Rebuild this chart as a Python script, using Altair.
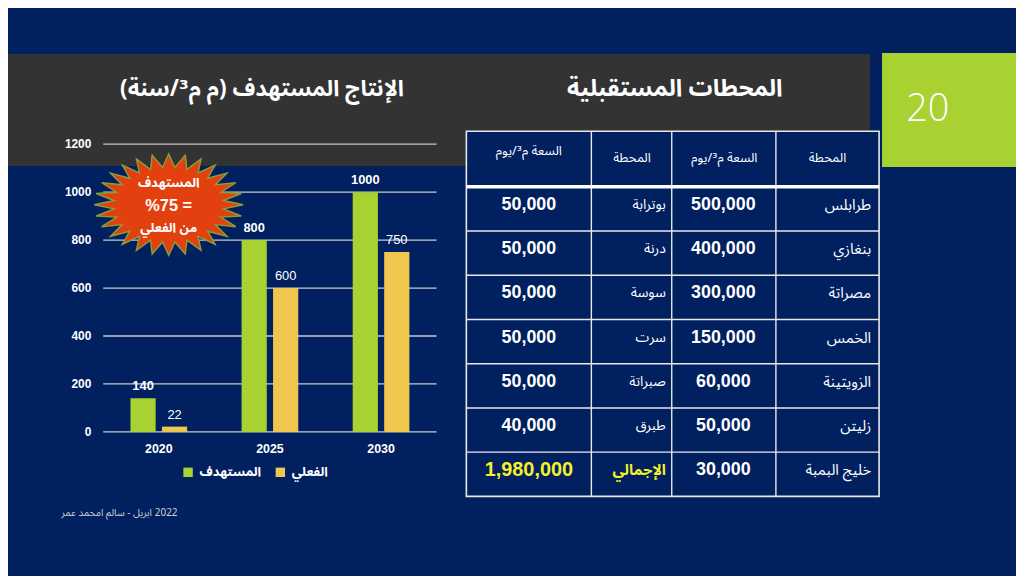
import math
import altair as alt
import pandas as pd

# ---------------- data ----------------
years = ["2020", "2025", "2030"]
target = [140, 800, 1000]
actual = [22, 600, 750]
series_names = ["المستهدف", "الفعلي"]
y_ticks = [0, 200, 400, 600, 800, 1000, 1200]

stations_a = ["طرابلس", "بنغازي", "مصراتة", "الخمس", "الزويتينة", "زليتن", "خليج البمبة"]
caps_a = [500000, 400000, 300000, 150000, 60000, 50000, 30000]
stations_b = ["بوترابة", "درنة", "سوسة", "سرت", "صبراتة", "طبرق", "الإجمالي"]
caps_b = [50000, 50000, 50000, 50000, 50000, 40000, 1980000]
header_station = "المحطة"
header_capacity = "السعة م³/يوم"

title_chart = "الإنتاج المستهدف (م م³/سنة)"
title_table = "المحطات المستقبلية"
slide_number = "20"
burst_lines = ["المستهدف", "%75 =", "من الفعلي"]
footer_words = "ابريل - سالم امحمد عمر"
footer_year = "2022"

# ---------------- style ----------------
NAVY = "#00205f"
GRAY = "#333333"
LIME = "#a8d232"
GOLD = "#efc74e"
YEL = "#f5f02a"
AR = "Noto Sans Arabic, DejaVu Sans"
LAT = "Liberation Sans"
RLM = "\u200f"


def rtl(s):
    return RLM + s + RLM


one = pd.DataFrame({"k": [0]})

# ---------------- slide decoration ----------------
band = alt.Chart(one).mark_rect(color=GRAY).encode(
    x=alt.value(0), x2=alt.value(869), y=alt.value(44), y2=alt.value(157))
green_box = alt.Chart(one).mark_rect(color=LIME).encode(
    x=alt.value(881), x2=alt.value(1016), y=alt.value(43), y2=alt.value(158))
num = alt.Chart(one).mark_text(text=slide_number, font="Open Sans", fontWeight=300,
                               fontSize=38, color="white", align="center",
                               baseline="middle").encode(x=alt.value(927), y=alt.value(101))
t1 = alt.Chart(one).mark_text(text=rtl(title_chart), font=AR, fontWeight="bold", fontSize=22.5,
                              color="white", align="center", baseline="alphabetic").encode(
    x=alt.value(256), y=alt.value(86))
t2 = alt.Chart(one).mark_text(text=rtl(title_table), font=AR, fontWeight="bold", fontSize=24,
                              color="white", align="center", baseline="alphabetic").encode(
    x=alt.value(672), y=alt.value(86))
foot_w = alt.Chart(one).mark_text(text=footer_words, font=AR, fontSize=10, color="#d0d0d0",
                                  align="right", baseline="middle").encode(
    x=alt.value(145), y=alt.value(507))
foot_y = alt.Chart(one).mark_text(text=footer_year, font=AR, fontSize=10, color="#d0d0d0",
                                  align="left", baseline="middle").encode(
    x=alt.value(148), y=alt.value(507))

# ---------------- bar chart ----------------
yscale = alt.Scale(domain=[0, 1200], range=[425, 135], nice=False, zero=True)
xscale = alt.Scale(domain=years, range=[96, 432], paddingInner=0.49, paddingOuter=0.245)
oscale = alt.Scale(domain=series_names, paddingInner=0.2, paddingOuter=0)

bars_df = pd.DataFrame({
    "year": years * 2,
    "series": [series_names[0]] * 3 + [series_names[1]] * 3,
    "value": target + actual,
})
ticks_df = pd.DataFrame({"v": y_ticks})
years_df = pd.DataFrame({"year": years})

grid = alt.Chart(ticks_df).mark_rule(color="#c8c8c8", strokeWidth=1.3).encode(
    y=alt.Y("v:Q", scale=yscale, axis=None), x=alt.value(96), x2=alt.value(432))
tick_lab = alt.Chart(ticks_df).mark_text(font=LAT, fontWeight="bold", fontSize=12,
                                         color="white", align="right", baseline="middle").encode(
    y=alt.Y("v:Q", scale=yscale, axis=None), x=alt.value(84), text="v:Q")

bars = alt.Chart(bars_df).mark_bar().encode(
    x=alt.X("year:N", scale=xscale, axis=None),
    xOffset=alt.XOffset("series:N", scale=oscale),
    y=alt.Y("value:Q", scale=yscale, axis=None),
    color=alt.Color("series:N", scale=alt.Scale(domain=series_names, range=[LIME, GOLD]),
                    legend=alt.Legend(title=None, orient="none", legendX=175, legendY=459,
                                      direction="horizontal", symbolType="square",
                                      symbolSize=90, symbolStrokeWidth=0,
                                      labelFont=AR, labelFontSize=13, labelFontWeight="bold",
                                      labelColor="white", columnPadding=12, labelOffset=5,
                                      padding=0)),
)


def value_labels(sname, weight):
    return alt.Chart(bars_df).transform_filter(
        alt.datum.series == sname).mark_text(
        font=LAT, fontSize=13, fontWeight=weight, color="white", align="center",
        baseline="bottom", dy=-5).encode(
        x=alt.X("year:N", scale=xscale, axis=None),
        xOffset=alt.XOffset("series:N", scale=oscale),
        y=alt.Y("value:Q", scale=yscale, axis=None),
        text="value:Q")


lab_t = value_labels(series_names[0], "bold")
lab_a = value_labels(series_names[1], "normal")
year_lab = alt.Chart(years_df).mark_text(font=LAT, fontWeight="bold", fontSize=12.5,
                                         color="white", align="center", baseline="middle").encode(
    x=alt.X("year:N", scale=xscale, axis=None), y=alt.value(442), text="year:N")

# ---------------- starburst ----------------
n_sp = 28
pts = []
for i in range(2 * n_sp):
    r = 1.0 if i % 2 == 0 else 0.74
    a = math.pi * i / n_sp
    pts.append((r * math.sin(a), -r * math.cos(a) * 0.68))
star_path = "M" + " L".join(f"{x:.4f},{y:.4f}" for x, y in pts) + " Z"
burst = alt.Chart(one).mark_point(shape=star_path, size=22500, filled=True, fill="#e2410f",
                                  stroke="#8a9b3b", strokeWidth=1.5, opacity=1).encode(
    x=alt.value(162), y=alt.value(196))
b1 = alt.Chart(one).mark_text(text=burst_lines[0], font=AR, fontWeight="bold", fontSize=13,
                              color="white", align="center", baseline="middle").encode(
    x=alt.value(162), y=alt.value(174))
b2 = alt.Chart(one).mark_text(text=burst_lines[1], font=LAT, fontWeight="bold", fontSize=16.5,
                              color="white", align="center", baseline="middle").encode(
    x=alt.value(162), y=alt.value(197))
b3 = alt.Chart(one).mark_text(text=burst_lines[2], font=AR, fontWeight="bold", fontSize=13,
                              color="white", align="center", baseline="middle").encode(
    x=alt.value(162), y=alt.value(220))

# ---------------- table ----------------
tscale = alt.Scale(domain=[0, 7], range=[178, 490], nice=False, zero=False)
rows = list(range(len(stations_a)))
tab_df = pd.DataFrame({"row": rows, "station_a": stations_a, "cap_a": caps_a,
                       "station_b": stations_b, "cap_b": caps_b})
tab_df["mid"] = tab_df["row"] + 0.5
bounds_df = pd.DataFrame({"b": list(range(1, len(rows)))})
top_df = pd.DataFrame({"b": [0]})

tab_bg = alt.Chart(one).mark_rect(fill=NAVY, stroke="#e8e8e8", strokeWidth=1.6).encode(
    x=alt.value(462), x2=alt.value(878), y=alt.value(122), y2=alt.value(490))
vlines = [alt.Chart(one).mark_rule(color="#e8e8e8", strokeWidth=1.4).encode(
    x=alt.value(xv), y=alt.value(122), y2=alt.value(490)) for xv in (588, 669, 774)]
hlines = alt.Chart(bounds_df).mark_rule(color="#e8e8e8", strokeWidth=1.4).encode(
    y=alt.Y("b:Q", scale=tscale, axis=None), x=alt.value(462), x2=alt.value(878))
hthick = alt.Chart(top_df).mark_rule(color="white", strokeWidth=3.5).encode(
    y=alt.Y("b:Q", scale=tscale, axis=None), x=alt.value(462), x2=alt.value(878))

ymid = alt.Y("mid:Q", scale=tscale, axis=None)
col1 = alt.Chart(tab_df).mark_text(font=AR, fontSize=15, color="white", align="right",
                                   baseline="middle", dy=-4).encode(
    x=alt.value(870), y=ymid, text="station_a:N")
col2 = alt.Chart(tab_df).mark_text(font=LAT, fontWeight="bold", fontSize=18, color="white",
                                   align="center", baseline="middle", dy=-4).encode(
    x=alt.value(721), y=ymid, text=alt.Text("cap_a:Q", format=","))
col3 = alt.Chart(tab_df).transform_filter("datum.row < 6").mark_text(
    font=AR, fontSize=14, color="white", align="right", baseline="middle", dy=-4).encode(
    x=alt.value(663), y=ymid, text="station_b:N")
col3t = alt.Chart(tab_df).transform_filter("datum.row == 6").mark_text(
    font=AR, fontWeight="bold", fontSize=15, color=YEL, align="right", baseline="middle",
    dy=-4).encode(x=alt.value(663), y=ymid, text="station_b:N")
col4 = alt.Chart(tab_df).transform_filter("datum.row < 6").mark_text(
    font=LAT, fontWeight="bold", fontSize=18, color="white", align="center",
    baseline="middle", dy=-4).encode(
    x=alt.value(525), y=ymid, text=alt.Text("cap_b:Q", format=","))
col4t = alt.Chart(tab_df).transform_filter("datum.row == 6").mark_text(
    font=LAT, fontWeight="bold", fontSize=20, color=YEL, align="center",
    baseline="middle", dy=-4).encode(
    x=alt.value(525), y=ymid, text=alt.Text("cap_b:Q", format=","))

heads = []
for xv, yv, label in ((826, 149, header_station), (722, 149, header_capacity),
                      (629, 149, header_station), (525, 142, header_capacity)):
    heads.append(alt.Chart(one).mark_text(text=rtl(label), font=AR, fontSize=13, color="white",
                                          align="center", baseline="middle").encode(
        x=alt.value(xv), y=alt.value(yv)))

layers = [band, green_box, num, t1, t2, foot_w, foot_y,
          grid, tick_lab, bars, lab_t, lab_a, year_lab,
          burst, b1, b2, b3,
          tab_bg, *vlines, hlines, hthick, col1, col2, col3, col3t, col4, col4t, *heads]

chart = alt.layer(*layers).resolve_scale(
    x="independent", y="independent", color="independent"
).properties(
    width=1016, height=568, autosize=alt.AutoSizeParams(type="none"), padding=0,
    background=NAVY,
).configure_view(stroke=None)

chart.save("out.html", embed_options={"renderer": "svg", "actions": False})
